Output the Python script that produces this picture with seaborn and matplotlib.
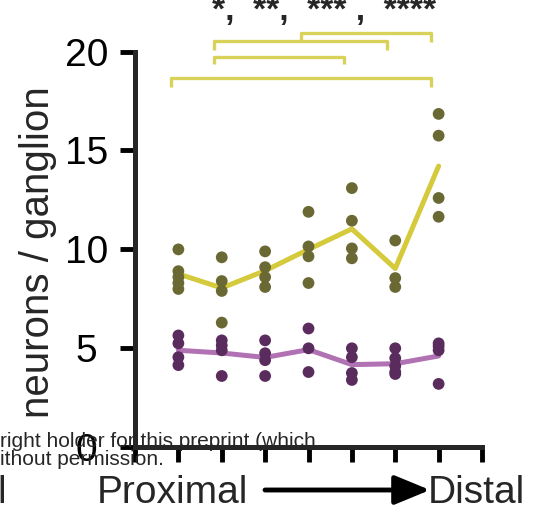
import pandas as pd
import seaborn as sns
import matplotlib.pyplot as plt

# Ganglion positions (proximal -> distal) and neuron counts per ganglion
positions = [0, 1, 2, 3, 4, 5, 6]
olive_counts = [
    [10.0, 8.9, 8.6, 8.3, 8.0],
    [9.6, 8.4, 7.9, 6.3],
    [9.9, 9.1, 8.6, 8.1],
    [11.9, 10.15, 9.65, 8.3],
    [13.1, 11.45, 10.05, 9.55],
    [10.45, 8.55, 8.1],
    [16.85, 15.75, 12.6, 11.65],
]
purple_counts = [
    [5.65, 5.25, 4.55, 4.15],
    [5.4, 5.15, 4.9, 3.6],
    [5.4, 4.75, 4.4, 3.6],
    [6.0, 5.0, 3.8],
    [5.0, 4.55, 3.75, 3.4],
    [5.0, 4.5, 4.1, 3.8, 3.7],
    [5.25, 5.1, 4.9, 3.2],
]
y_ticks = [0, 5, 10, 15, 20]
# significance brackets between positions
comparisons = [(0, 6), (1, 4), (1, 5), (3, 6)]
star_text = "*,  **,  *** ,  ****"

rows = []
for group, counts in [("olive", olive_counts), ("purple", purple_counts)]:
    for pos, vals in zip(positions, counts):
        for v in vals:
            rows.append({"position": pos, "neurons": v, "group": group})
df = pd.DataFrame(rows)

sns.set_style("ticks")
plt.rcParams["font.family"] = ["Liberation Sans", "DejaVu Sans"]

W, H = 533, 512
fig = plt.figure(figsize=(W / 100, H / 100), dpi=100)
ax = fig.add_axes([135 / W, 1 - 447.2 / H, (482 - 135) / W, (447.2 - 51.6) / H])

line_colors = {"olive": "#d4ca3c", "purple": "#b072b2"}
dot_colors = {"olive": "#6b6933", "purple": "#5a2c5d"}

sns.lineplot(data=df, x="position", y="neurons", hue="group", palette=line_colors,
             estimator="mean", errorbar=None, lw=3.6, legend=False, ax=ax, zorder=1)
sns.scatterplot(data=df, x="position", y="neurons", hue="group", palette=dot_colors,
                s=72, edgecolor="none", legend=False, ax=ax, zorder=2)

ax.set_xlim(-1, 7)
ax.set_ylim(0, 20)
ax.set_xticks(range(-1, 8))
ax.set_xticklabels([])
ax.set_yticks(y_ticks)
ax.set_xlabel("")
ax.set_ylabel("")
ax.tick_params(width=3.5, length=11, labelsize=28, pad=24, colors="black")
for lab in ax.get_yticklabels():
    lab.set_ha("center")
sns.despine(ax=ax)
for side in ["left", "bottom"]:
    ax.spines[side].set_linewidth(3.6)

# brackets
bracket_color = "#d8d25a"
levels = [(18.2, 18.65), (19.35, 19.75), (20.1, 20.55), (20.5, 20.95)]
for (a, b), (lo, hi) in zip(comparisons, levels):
    ax.plot([a - 0.18, a - 0.18, b - 0.18, b - 0.18], [lo, hi, hi, lo],
            color=bracket_color, lw=2.4, clip_on=False, solid_capstyle="butt")

fig.text(212 / W, 1 - 20 / H, star_text, fontsize=24, fontweight="bold",
         va="baseline", ha="left")

fig.text(38 / W, 1 - 252 / H, "neurons / ganglion", rotation=90, fontsize=29,
         ha="center", va="center")

fig.text(97 / W, 1 - 503 / H, "Proximal", fontsize=28, va="baseline", ha="left")
fig.text(525 / W, 1 - 503 / H, "Distal", fontsize=28, va="baseline", ha="right")
fig.text(-3 / W, 1 - 503 / H, "l", fontsize=28, va="baseline", ha="left")
ax.annotate("", xy=(430 / W, 1 - 490 / H), xytext=(265 / W, 1 - 490 / H),
            xycoords="figure fraction", textcoords="figure fraction",
            arrowprops=dict(arrowstyle="-|>,head_length=0.8,head_width=0.33",
                            mutation_scale=27, lw=3.5, color="black",
                            shrinkA=0, shrinkB=0))

fig.text(0, 1 - 447 / H, "right holder for this preprint (which", fontsize=15,
         va="baseline", ha="left", zorder=10)
fig.text(0, 1 - 465 / H, "ithout permission.", fontsize=15,
         va="baseline", ha="left", zorder=10)

fig.savefig("out.png", dpi=100)
